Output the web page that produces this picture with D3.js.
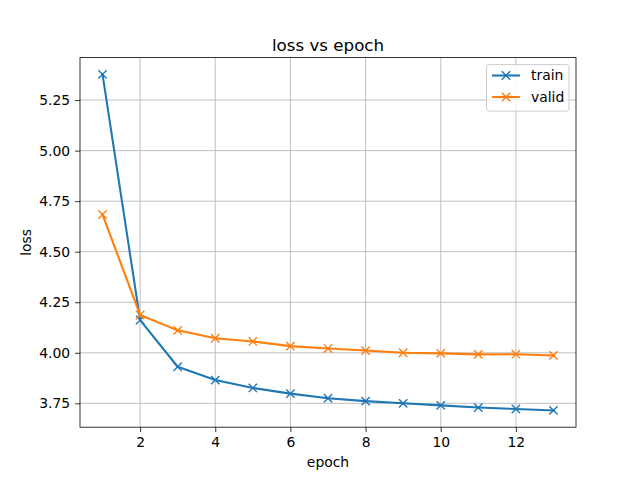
<!DOCTYPE html>
<html><head><meta charset="utf-8">
<script src="https://cdn.jsdelivr.net/npm/d3@7"></script>
<style>body{margin:0;background:#fff}svg{display:block}text{font-family:"DejaVu Sans",sans-serif;fill:#000}</style>
</head><body><svg id="c" width="640" height="480"></svg>
<script>
const epochs = [1,2,3,4,5,6,7,8,9,10,11,12,13];
const train = [5.377,4.162,3.931,3.865,3.826,3.798,3.775,3.761,3.750,3.740,3.729,3.722,3.715];
const valid = [4.684,4.187,4.111,4.072,4.056,4.033,4.021,4.011,4.000,3.997,3.992,3.993,3.987];
const xTicks = [2,4,6,8,10,12];
const yTicks = [3.75,4.00,4.25,4.50,4.75,5.00,5.25];
const seriesNames = ["train","valid"];
const colors = ["#1f77b4","#ff7f0e"];

const svg = d3.select("#c");
const L=80,R=576,T=57.6,B=427.2;
const all = train.concat(valid);
const ymin=d3.min(all), ymax=d3.max(all), yr=ymax-ymin;
const x = d3.scaleLinear().domain([0.4,13.6]).range([L,R]);
const y = d3.scaleLinear().domain([ymin-0.05*yr, ymax+0.05*yr]).range([B,T]);

// grid
const g = svg.append("g");
g.selectAll(".vx").data(xTicks).enter().append("line")
 .attr("x1",d=>x(d)).attr("x2",d=>x(d)).attr("y1",T).attr("y2",B)
 .attr("stroke","#b0b0b0").attr("stroke-width",0.8);
g.selectAll(".hy").data(yTicks).enter().append("line")
 .attr("y1",d=>y(d)).attr("y2",d=>y(d)).attr("x1",L).attr("x2",R)
 .attr("stroke","#b0b0b0").attr("stroke-width",0.8);

// axes
const xa = svg.append("g").attr("transform",`translate(0,${B})`)
 .call(d3.axisBottom(x).tickValues(xTicks).tickSize(4.9).tickPadding(4.9).tickFormat(d3.format("d")));
const ya = svg.append("g").attr("transform",`translate(${L},0)`)
 .call(d3.axisLeft(y).tickValues(yTicks).tickSize(4.9).tickPadding(4.9).tickFormat(d3.format(".2f")));
[xa,ya].forEach(a=>{a.select(".domain").remove();a.selectAll("line").attr("stroke","#000").attr("stroke-width",0.8);
 a.selectAll("text").attr("font-size","13.9px").attr("font-family","DejaVu Sans").attr("fill","#000");});

// series
[train,valid].forEach((s,i)=>{
 const line = d3.line().x((d,j)=>x(epochs[j])).y(d=>y(d));
 svg.append("path").datum(s).attr("d",line).attr("fill","none").attr("stroke",colors[i]).attr("stroke-width",2.08).attr("stroke-linejoin","round").attr("stroke-linecap","square");
 const m=4.17;
 svg.append("g").selectAll("path").data(s).enter().append("path")
  .attr("d",(d,j)=>{const cx=x(epochs[j]),cy=y(d);return `M${cx-m},${cy-m}L${cx+m},${cy+m}M${cx-m},${cy+m}L${cx+m},${cy-m}`;})
  .attr("stroke",colors[i]).attr("stroke-width",1.39).attr("fill","none");
});

// frame
svg.append("rect").attr("x",L).attr("y",T).attr("width",R-L).attr("height",B-T).attr("fill","none").attr("stroke","#000").attr("stroke-width",0.8);

// labels
svg.append("text").attr("x",(L+R)/2).attr("y",T-7).attr("text-anchor","middle").attr("font-size","16.7px").text("loss vs epoch");
svg.append("text").attr("x",(L+R)/2).attr("y",467).attr("text-anchor","middle").attr("font-size","13.9px").text("epoch");
svg.append("text").attr("transform",`translate(31,${(T+B)/2}) rotate(-90)`).attr("text-anchor","middle").attr("font-size","13.9px").text("loss");

// legend
const lg = svg.append("g");
lg.append("rect").attr("x",486.5).attr("y",64.6).attr("width",82.5).attr("height",46.5).attr("rx",2.8)
 .attr("fill","#fff").attr("fill-opacity",0.8).attr("stroke","#cccccc").attr("stroke-width",1);
seriesNames.forEach((n,i)=>{
 const ly = 75.5 + i*21.5;
 lg.append("line").attr("x1",492).attr("x2",520).attr("y1",ly).attr("y2",ly).attr("stroke",colors[i]).attr("stroke-width",2.08);
 const m=4.17, cx=506;
 lg.append("path").attr("d",`M${cx-m},${ly-m}L${cx+m},${ly+m}M${cx-m},${ly+m}L${cx+m},${ly-m}`).attr("stroke",colors[i]).attr("stroke-width",1.39);
 lg.append("text").attr("x",531).attr("y",ly+4.8).attr("font-size","13.9px").text(n);
});
</script></body></html>
